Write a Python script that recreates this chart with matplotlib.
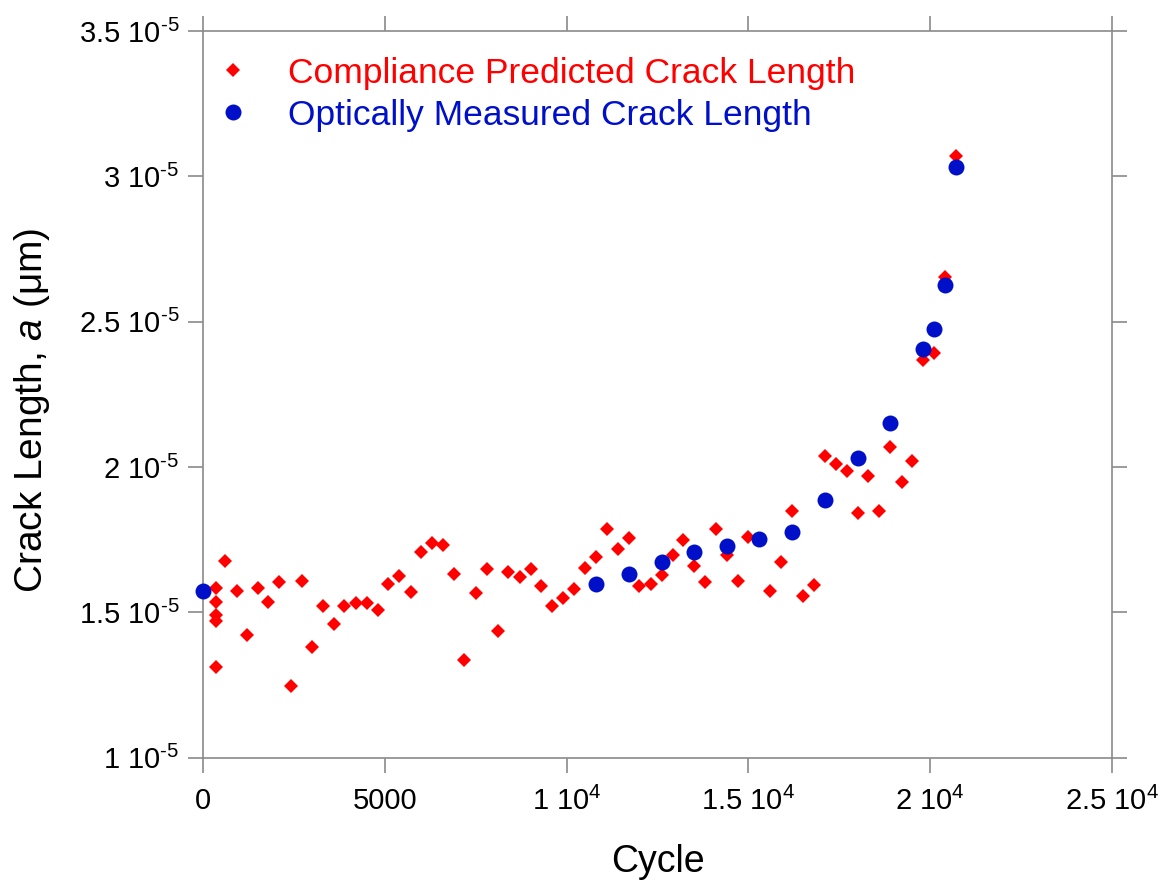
import numpy as np
import matplotlib.pyplot as plt
from matplotlib.lines import Line2D

plt.rcParams['font.family'] = ['Liberation Sans', 'DejaVu Sans']
plt.rcParams['mathtext.fontset'] = 'custom'
plt.rcParams['mathtext.rm'] = 'Liberation Sans'
plt.rcParams['mathtext.it'] = 'Liberation Sans:italic'

# compliance predicted crack length (red diamonds), a in units of 1e-5
cycle_pred = [350, 350, 350, 350, 350, 597, 919, 1194, 1505, 1789,
              2092, 2414, 2708, 3000, 3285, 3597, 3880, 4194, 4513, 4816,
              5091, 5386, 5707, 5991, 6302, 6605, 6899, 7183, 7505, 7799,
              8102, 8394, 8716, 9010, 9294, 9605, 9907, 10210, 10504, 10807,
              11101, 11404, 11715, 11991, 12312, 12615, 12918, 13210, 13504, 13807,
              14110, 14404, 14707, 14999, 15595, 15898, 16210, 16512, 16806, 17109,
              17412, 17725, 18009, 18301, 18595, 18898, 19220, 19512, 19798, 20117,
              20411, 20706]
a_pred = [1.583, 1.537, 1.491, 1.470, 1.313, 1.677, 1.573, 1.421, 1.583, 1.536,
          1.605, 1.247, 1.608, 1.382, 1.523, 1.460, 1.523, 1.531, 1.531, 1.508,
          1.596, 1.625, 1.571, 1.707, 1.740, 1.731, 1.632, 1.336, 1.568, 1.650,
          1.436, 1.638, 1.623, 1.650, 1.592, 1.523, 1.550, 1.580, 1.654, 1.691,
          1.786, 1.718, 1.755, 1.591, 1.598, 1.628, 1.696, 1.749, 1.660, 1.605,
          1.787, 1.697, 1.608, 1.758, 1.573, 1.674, 1.849, 1.556, 1.593, 2.038,
          2.010, 1.987, 1.841, 1.970, 1.849, 2.068, 1.949, 2.022, 2.368, 2.393,
          2.655, 3.070]

# optically measured crack length (blue circles)
cycle_opt = [0, 10807, 11715, 12615, 13504, 14404, 15301, 16210, 17109, 18009,
             18898, 19815, 20109, 20420, 20714]
a_opt = [1.573, 1.598, 1.631, 1.674, 1.709, 1.729, 1.752, 1.777, 1.885, 2.030,
         2.152, 2.405, 2.474, 2.626, 3.031]

x_ticks = [0, 5000, 10000, 15000, 20000, 25000]
x_labels = ['0', '5000', r'1 10$^{4}$', r'1.5 10$^{4}$', r'2 10$^{4}$', r'2.5 10$^{4}$']
y_ticks = [1e-5, 1.5e-5, 2e-5, 2.5e-5, 3e-5, 3.5e-5]
y_labels = [r'1 10$^{\text{-}5}$', r'1.5 10$^{\text{-}5}$', r'2 10$^{\text{-}5}$',
            r'2.5 10$^{\text{-}5}$', r'3 10$^{\text{-}5}$', r'3.5 10$^{\text{-}5}$']

red = '#ff0000'
blue = '#0010c8'
grey = '#8a8a8a'

fig = plt.figure(figsize=(11.65, 8.84), dpi=100)
ax = fig.add_axes([0.1745, 0.1429, 0.7798, 0.8220])

ax.plot(cycle_pred, np.array(a_pred) * 1e-5, 'D', color=red, ms=7, mew=0,
        clip_on=False, zorder=3)
ax.plot(cycle_opt, np.array(a_opt) * 1e-5, 'o', color=blue, ms=11.5, mew=0,
        clip_on=False, zorder=4)

ax.set_xlim(0, 25000)
ax.set_ylim(1e-5, 3.5e-5)
ax.set_xticks(x_ticks)
ax.set_xticklabels(x_labels)
ax.set_yticks(y_ticks)
ax.set_yticklabels(y_labels)

for s in ax.spines.values():
    s.set_color(grey)
    s.set_linewidth(1.2)
ax.tick_params(direction='out', length=11, width=1.2, color=grey,
               top=True, right=True, labelsize=21)
ax.tick_params(axis='x', pad=10)
ax.tick_params(axis='y', pad=6)

ax.set_xlabel('Cycle', fontsize=27, labelpad=20)
ax.set_ylabel(r'Crack Length, $\mathit{a}$ (μm)', fontsize=28)
ax.yaxis.set_label_coords(-0.166, 0.478)

handles = [Line2D([], [], ls='', marker='D', color=red, ms=7, mew=0),
           Line2D([], [], ls='', marker='o', color=blue, ms=11.5, mew=0)]
leg = ax.legend(handles, ['Compliance Predicted Crack Length',
                          'Optically Measured Crack Length'],
                loc='upper left', bbox_to_anchor=(0.0, 0.982), frameon=False,
                fontsize=25.5, handlelength=1.0, handletextpad=1.05,
                labelspacing=0.26, borderpad=0.2, borderaxespad=0.15)
for t, c in zip(leg.get_texts(), [red, blue]):
    t.set_color(c)

fig.savefig('out.png', dpi=100)
